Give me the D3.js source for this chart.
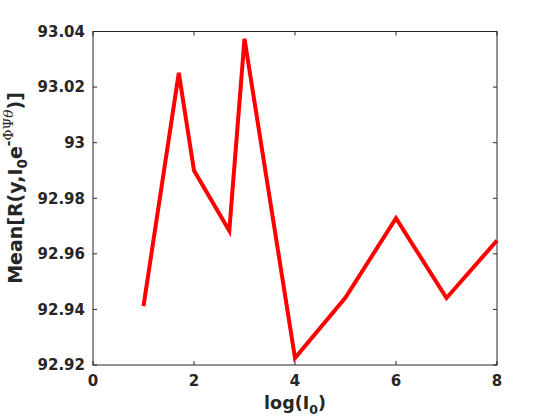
<!DOCTYPE html>
<html>
<head>
<meta charset="utf-8">
<script src="https://cdn.jsdelivr.net/npm/d3@7"></script>
<style>
  body { margin: 0; background: #fff; }
  text { font-family: "DejaVu Sans", sans-serif; font-weight: bold; fill: #262626; }
</style>
</head>
<body>
<div id="chart"></div>
<script>
// log10 of I0
var logI0 = [1, 1.699, 2, 2.699, 3, 4, 5, 6, 7, 8];
var meanR = [92.9412, 93.0251, 92.9900, 92.9683, 93.0374, 92.9225, 92.9443, 92.9728, 92.9441, 92.9648];
var xTicks = [0, 2, 4, 6, 8];
var yTicks = [92.92, 92.94, 92.96, 92.98, 93, 93.02, 93.04];

var width = 550, height = 420;
var pLeft = 93, pRight = 497, pTop = 31.5, pBottom = 365;

var svg = d3.select("#chart").append("svg")
    .attr("width", width)
    .attr("height", height);

var x = d3.scaleLinear().domain([0, 8]).range([pLeft, pRight]);
var y = d3.scaleLinear().domain([92.92, 93.04]).range([pBottom, pTop]);

var axisColor = "#262626";

// box
svg.append("rect")
    .attr("x", pLeft).attr("y", pTop)
    .attr("width", pRight - pLeft).attr("height", pBottom - pTop)
    .attr("fill", "none")
    .attr("stroke", axisColor)
    .attr("stroke-width", 1);

// ticks on all four sides, pointing inward
var tickLen = 4;
svg.selectAll("line.xb").data(xTicks).enter().append("line")
    .attr("x1", function (d) { return x(d); }).attr("x2", function (d) { return x(d); })
    .attr("y1", pBottom).attr("y2", pBottom - tickLen)
    .attr("stroke", axisColor);
svg.selectAll("line.xt").data(xTicks).enter().append("line")
    .attr("x1", function (d) { return x(d); }).attr("x2", function (d) { return x(d); })
    .attr("y1", pTop).attr("y2", pTop + tickLen)
    .attr("stroke", axisColor);
svg.selectAll("line.yl").data(yTicks).enter().append("line")
    .attr("x1", pLeft).attr("x2", pLeft + tickLen)
    .attr("y1", function (d) { return y(d); }).attr("y2", function (d) { return y(d); })
    .attr("stroke", axisColor);
svg.selectAll("line.yr").data(yTicks).enter().append("line")
    .attr("x1", pRight).attr("x2", pRight - tickLen)
    .attr("y1", function (d) { return y(d); }).attr("y2", function (d) { return y(d); })
    .attr("stroke", axisColor);

// tick labels
svg.selectAll("text.xl").data(xTicks).enter().append("text")
    .attr("x", function (d) { return x(d); })
    .attr("y", 386)
    .attr("text-anchor", "middle")
    .style("font-size", "15px")
    .text(function (d) { return d; });

svg.selectAll("text.yl").data(yTicks).enter().append("text")
    .attr("x", pLeft - 8)
    .attr("y", function (d) { return y(d); })
    .attr("dy", "0.36em")
    .attr("text-anchor", "end")
    .style("font-size", "15px")
    .text(function (d) { return +d.toFixed(2); });

// x label
var xl = svg.append("text")
    .attr("x", 295).attr("y", 409)
    .attr("text-anchor", "middle")
    .style("font-size", "17.5px");
xl.append("tspan").text("log(I");
xl.append("tspan").attr("dy", 5).style("font-size", "12.5px").text("0");
xl.append("tspan").attr("dy", -5).text(")");

// y label
var yl = svg.append("text")
    .attr("transform", "translate(22,188) rotate(-90)")
    .attr("text-anchor", "middle")
    .style("font-size", "19px");
yl.append("tspan").text("Mean[R(y,I");
yl.append("tspan").attr("dy", 5).style("font-size", "13.5px").text("0");
yl.append("tspan").attr("dy", -5).text("e");
yl.append("tspan").attr("dy", -9).style("font-size", "13.5px").text("-");
yl.append("tspan").style("font-size", "13.5px").style("font-family", "'DejaVu Serif', serif").style("font-weight", "normal").text("ΦΨ");
yl.append("tspan").style("font-size", "13.5px").style("font-family", "'DejaVu Serif', serif").style("font-weight", "normal").style("font-style", "italic").text("θ");
yl.append("tspan").attr("dy", 9).text(")]");

// data line
var line = d3.line()
    .x(function (d, i) { return x(logI0[i]); })
    .y(function (d) { return y(d); });

svg.append("path")
    .datum(meanR)
    .attr("d", line)
    .attr("fill", "none")
    .attr("stroke", "#ff0000")
    .attr("stroke-width", 4)
    .attr("stroke-linejoin", "miter");
</script>
</body>
</html>
